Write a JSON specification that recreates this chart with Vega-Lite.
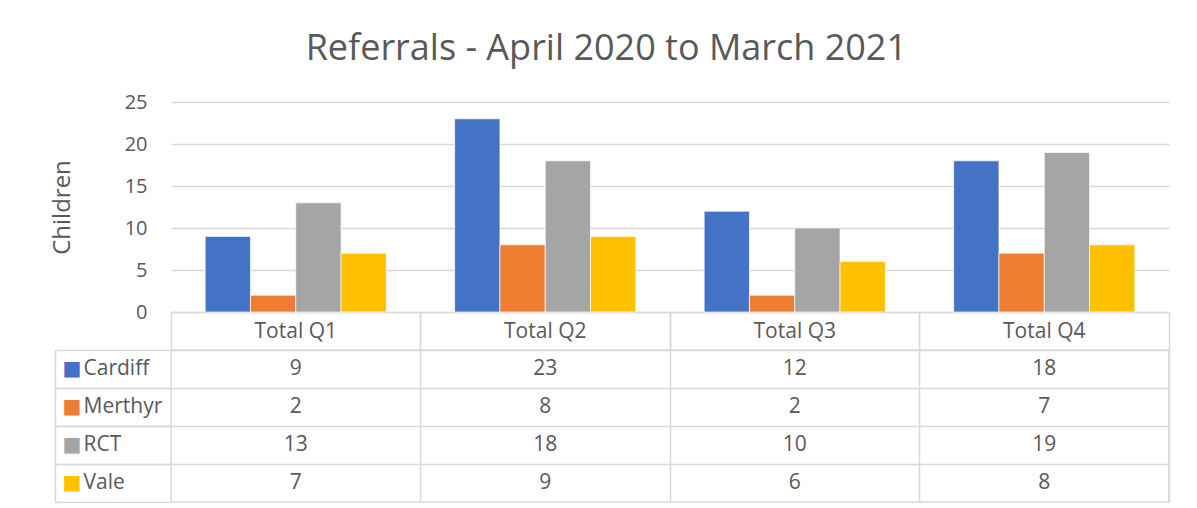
{
  "$schema": "https://vega.github.io/schema/vega-lite/v6.json",
  "padding": {"left": 50, "top": 31, "right": 0, "bottom": 0},
  "background": "white",
  "title": {"text": "Referrals - April 2020 to March 2021", "fontSize": 36, "font": "Open Sans", "fontWeight": "normal", "color": "#595959", "anchor": "middle", "offset": 24, "dx": -4},
  "config": {"font": "Open Sans", "view": {"stroke": null}},
  "data": {"values": [
    {"quarter": "Total Q1", "area": "Cardiff", "value": 9},
    {"quarter": "Total Q1", "area": "Merthyr", "value": 2},
    {"quarter": "Total Q1", "area": "RCT", "value": 13},
    {"quarter": "Total Q1", "area": "Vale", "value": 7},
    {"quarter": "Total Q2", "area": "Cardiff", "value": 23},
    {"quarter": "Total Q2", "area": "Merthyr", "value": 8},
    {"quarter": "Total Q2", "area": "RCT", "value": 18},
    {"quarter": "Total Q2", "area": "Vale", "value": 9},
    {"quarter": "Total Q3", "area": "Cardiff", "value": 12},
    {"quarter": "Total Q3", "area": "Merthyr", "value": 2},
    {"quarter": "Total Q3", "area": "RCT", "value": 10},
    {"quarter": "Total Q3", "area": "Vale", "value": 6},
    {"quarter": "Total Q4", "area": "Cardiff", "value": 18},
    {"quarter": "Total Q4", "area": "Merthyr", "value": 7},
    {"quarter": "Total Q4", "area": "RCT", "value": 19},
    {"quarter": "Total Q4", "area": "Vale", "value": 8}
  ]},
  "vconcat": [
    {
      "width": 998,
      "height": 210,
      "mark": {"type": "bar", "stroke": "white", "strokeWidth": 0.7},
      "encoding": {
        "x": {"field": "quarter", "type": "nominal", "sort": ["Total Q1", "Total Q2", "Total Q3", "Total Q4"],
          "scale": {"paddingInner": 0, "paddingOuter": 0},
          "axis": {"orient": "bottom", "title": null, "labelAngle": 0, "domainColor": "#D9D9D9", "domainWidth": 1.5,
            "ticks": true, "tickSize": 38, "tickColor": "#D9D9D9", "tickWidth": 1.5, "bandPosition": 0,
            "labelPadding": -19, "labelBaseline": "middle", "labelFontSize": 21, "labelColor": "#595959", "grid": false}},
        "xOffset": {"field": "area", "type": "nominal", "sort": ["Cardiff", "Merthyr", "RCT", "Vale"],
          "scale": {"paddingInner": 0, "paddingOuter": 0.754}},
        "y": {"field": "value", "type": "quantitative", "scale": {"domain": [0, 25]},
          "axis": {"title": "Children", "values": [0, 5, 10, 15, 20, 25], "grid": true, "gridColor": "#D9D9D9", "gridWidth": 1.5,
            "ticks": false, "domain": false, "labelPadding": 24, "labelFontSize": 20, "labelColor": "#595959",
            "titleFontSize": 24, "titleFontWeight": "normal", "titleColor": "#595959", "titlePadding": 50}},
        "color": {"field": "area", "type": "nominal", "legend": null,
          "scale": {"domain": ["Cardiff", "Merthyr", "RCT", "Vale"], "range": ["#4472C4", "#ED7D31", "#A5A5A5", "#FFC000"]}}
      }
    },
    {
      "width": 998,
      "height": 152,
      "view": {"stroke": "#D9D9D9", "strokeWidth": 1.5},
      "layer": [
        {
          "mark": {"type": "text", "fontSize": 21, "color": "#595959", "baseline": "middle"},
          "encoding": {
            "x": {"field": "quarter", "type": "nominal", "sort": ["Total Q1", "Total Q2", "Total Q3", "Total Q4"],
              "scale": {"type": "band", "paddingInner": 0, "paddingOuter": 0},
              "axis": {"orient": "top", "title": null, "labels": false, "domain": false, "ticks": true, "tickSize": 38,
                "tickColor": "#D9D9D9", "tickWidth": 1.5, "bandPosition": 1, "grid": true, "gridColor": "#D9D9D9", "gridWidth": 1.5}},
            "y": {"field": "area", "type": "nominal", "scale": {"type": "band", "domain": ["Cardiff", "Merthyr", "RCT", "Vale"], "paddingInner": 0, "paddingOuter": 0},
              "axis": {"orient": "left", "title": null, "domain": false, "ticks": true, "tickSize": 116, "tickColor": "#D9D9D9", "tickWidth": 1.5,
                "bandPosition": 0, "grid": true, "gridColor": "#D9D9D9", "gridWidth": 1.5,
                "labelAlign": "left", "labelPadding": -28, "labelBaseline": "middle", "labelFontSize": 21, "labelColor": "#595959"}},
            "text": {"field": "value", "type": "quantitative"}
          }
        },
        {
          "mark": {"type": "text", "opacity": 0},
          "encoding": {
            "x": {"field": "quarter", "type": "nominal", "sort": ["Total Q1", "Total Q2", "Total Q3", "Total Q4"]},
            "y": {"field": "area", "type": "nominal",
              "axis": {"orient": "left", "title": null, "offset": 116, "domain": true, "domainColor": "#D9D9D9", "domainWidth": 1.5,
                "ticks": true, "tickSize": -116, "tickColor": "#D9D9D9", "tickWidth": 1.5, "bandPosition": 1, "grid": false,
                "labelExpr": "'■'", "labelFont": "DejaVu Sans", "labelFontSize": 20, "labelAlign": "left", "labelPadding": 109, "labelBaseline": "middle",
                "labelColor": {"condition": [
                  {"test": "datum.value === 'Cardiff'", "value": "#4472C4"},
                  {"test": "datum.value === 'Merthyr'", "value": "#ED7D31"},
                  {"test": "datum.value === 'RCT'", "value": "#A5A5A5"}], "value": "#FFC000"}}},
            "text": {"field": "value", "type": "quantitative"}
          }
        }
      ],
      "resolve": {"axis": {"y": "independent"}}
    }
  ],
  "spacing": 38,
  "bounds": "flush"
}
